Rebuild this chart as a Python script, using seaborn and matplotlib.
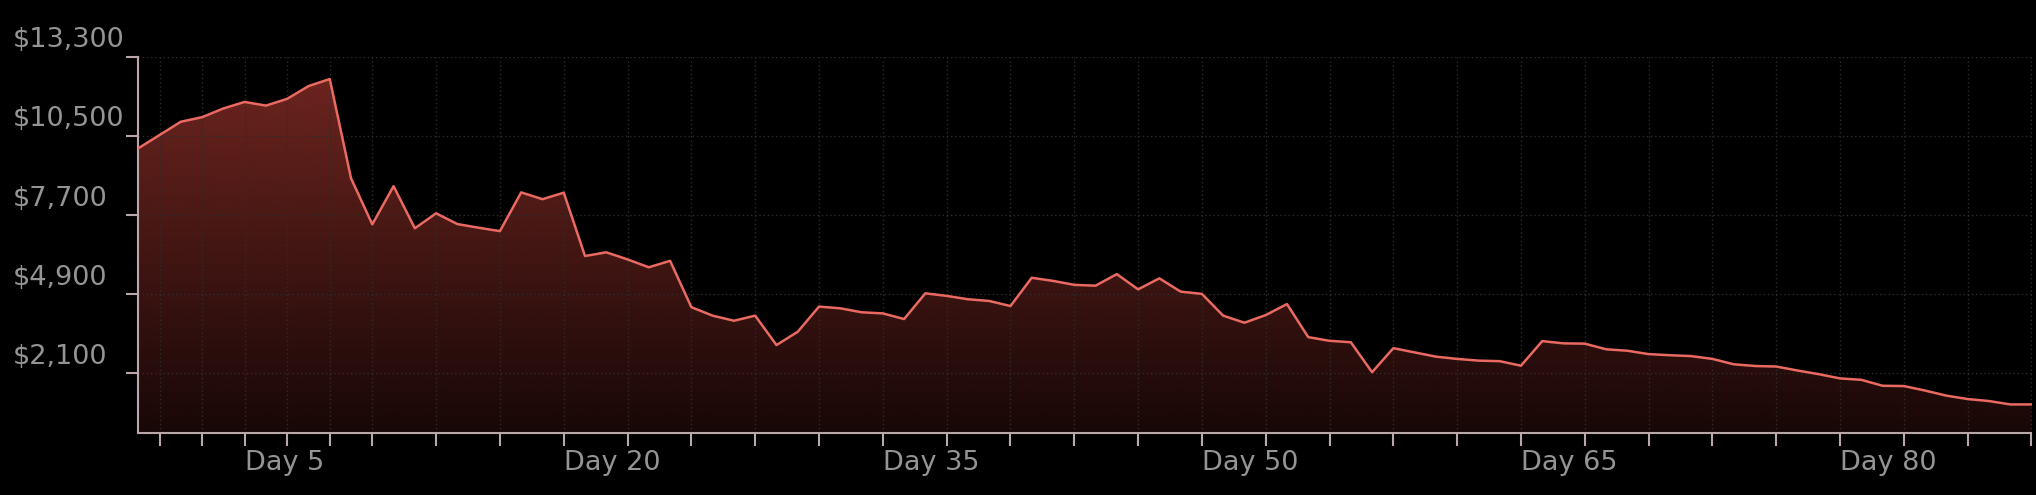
import numpy as np
import matplotlib
matplotlib.use("Agg")
import matplotlib.pyplot as plt
import matplotlib.transforms as mtransforms
import seaborn as sns

# data
days = list(range(90))
balance = [10060, 10530, 11000, 11160, 11470, 11700, 11570, 11810, 12260, 12510,
           9000, 7370, 8720, 7230, 7760, 7380, 7250, 7130, 8500, 8260,
           8490, 6250, 6380, 6130, 5850, 6080, 4440, 4140, 3960, 4140,
           3100, 3570, 4460, 4400, 4260, 4220, 4020, 4930, 4840, 4720,
           4660, 4480, 5480, 5370, 5230, 5200, 5610, 5070, 5460, 4990,
           4910, 4140, 3890, 4160, 4550, 3380, 3250, 3200, 2140, 2990,
           2840, 2690, 2610, 2550, 2530, 2370, 3240, 3160, 3150, 2950,
           2900, 2780, 2740, 2710, 2610, 2420, 2360, 2340, 2200, 2070,
           1920, 1870, 1660, 1650, 1490, 1310, 1190, 1120, 1000, 1000]

tick_days = [1, 3, 5, 7, 9, 11] + list(range(14, 90, 3))
label_days = [5, 20, 35, 50, 65, 80]
y_ticks = [2100, 4900, 7700, 10500, 13300]
y_labels = ["$2,100", "$4,900", "$7,700", "$10,500", "$13,300"]

LINE = "#ea6a62"
SPINE = "#b9a7a9"
TEXT = "#949494"
GRID = "#2c2c2c"

sns.set_theme(style="dark", rc={
    "axes.facecolor": "black",
    "figure.facecolor": "black",
    "savefig.facecolor": "black",
})
plt.rcParams["font.family"] = ["DejaVu Sans"]

W, H, DPI = 2036, 495, 100
fig = plt.figure(figsize=(W / DPI, H / DPI), dpi=DPI)
ax = fig.add_axes([138.3 / W, 1 - 432.7 / H, (2031.5 - 138.3) / W, (432.7 - 56.7) / H])

# gradient fill clipped to the area under the line
poly = ax.fill_between(days, balance, 0, color="none", linewidth=0)
top = max(balance)
n = 256
grad = np.zeros((n, 1, 4))
grad[:, 0, 0] = 0xd9 / 255
grad[:, 0, 1] = 0x48 / 255
grad[:, 0, 2] = 0x3e / 255
grad[:, 0, 3] = np.linspace(0.11, 0.5, n)
im = ax.imshow(grad, extent=[days[0], days[-1], 0, top], origin="lower",
               aspect="auto", zorder=1, interpolation="bicubic")
im.set_clip_path(poly.get_paths()[0], transform=ax.transData)

sns.lineplot(x=days, y=balance, color=LINE, linewidth=1.8, ax=ax, zorder=3)

ax.set_xlim(days[0], days[-1])
ax.set_ylim(0, 13300)
ax.set_xlabel("")
ax.set_ylabel("")

ax.set_axisbelow("line")
ax.grid(True, color=GRID, linestyle=(0, (1, 2)), linewidth=1)

ax.set_xticks(tick_days)
ax.set_xticklabels([f"Day {d}" if d in label_days else "" for d in tick_days])
for lbl in ax.get_xticklabels():
    lbl.set_horizontalalignment("left")
ax.tick_params(axis="x", length=9, width=1.5, color=SPINE, pad=3.4,
               labelsize=19.5, labelcolor=TEXT, bottom=True)

ax.set_yticks(y_ticks)
ax.set_yticklabels([])
ax.tick_params(axis="y", length=9, width=1.5, color=SPINE, left=True)

# y labels sit above their tick lines, left aligned at the figure edge
off = mtransforms.ScaledTranslation(0, 9.5 / DPI, fig.dpi_scale_trans)
ytrans = mtransforms.blended_transform_factory(fig.transFigure, ax.transData) + off
for v, s in zip(y_ticks, y_labels):
    ax.text(12.7 / W, v, s, transform=ytrans, ha="left", va="baseline",
            fontsize=19.5, color=TEXT, clip_on=False)

for side in ["top", "right"]:
    ax.spines[side].set_visible(False)
for side in ["left", "bottom"]:
    ax.spines[side].set_visible(True)
    ax.spines[side].set_color(SPINE)
    ax.spines[side].set_linewidth(1.5)

fig.savefig("out.png", dpi=DPI, facecolor="black")
